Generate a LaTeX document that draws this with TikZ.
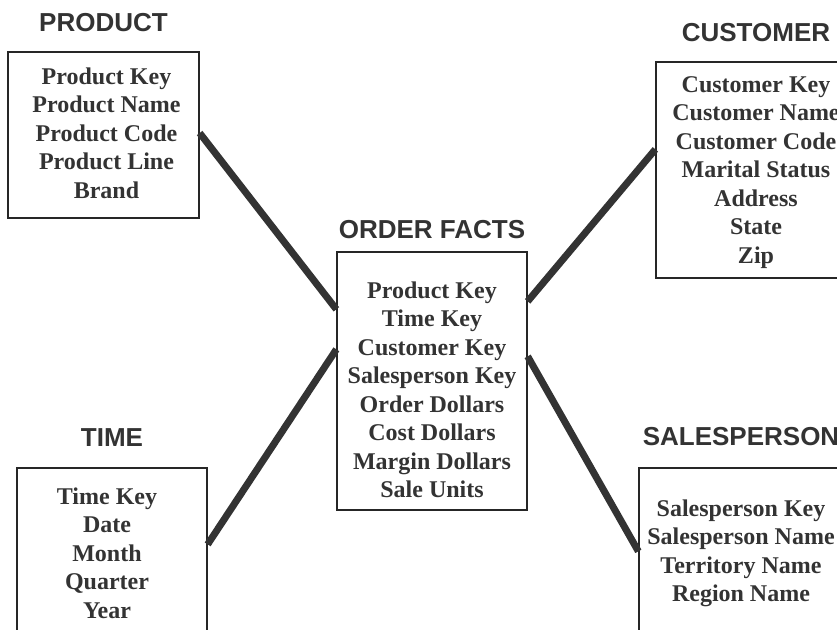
\documentclass[tikz,border=0pt]{standalone}
\usepackage{fontspec}
\setmainfont{Liberation Serif}
\newfontfamily\headfont{Liberation Sans}
\usetikzlibrary{positioning}
\definecolor{ink}{RGB}{51,51,51}

\begin{document}
\begin{tikzpicture}[x=1pt, y=-1pt,
  tbl/.style={rectangle, draw=black!85, line width=1.3pt, inner sep=0pt},
  fields/.style={align=center, inner sep=0pt, text=ink,
                 font=\fontsize{24}{28.5}\selectfont\bfseries},
  title/.style={inner sep=0pt, text=ink,
                font=\headfont\fontsize{26}{30}\selectfont\bfseries},
  link/.style={draw=ink, line width=7pt}
]
\useasboundingbox (0,0) rectangle (837,629);
\clip (0,0) rectangle (837,629);

% tables (the right and bottom ones run off the page)
\node[tbl, minimum width=191pt, minimum height=166pt] (product) at (103.5,135) {};
\node[tbl, minimum width=200pt, minimum height=216pt] (customer) at (756,170) {};
\node[tbl, minimum width=190pt, minimum height=258pt] (order) at (432,381) {};
\node[tbl, minimum width=190pt, minimum height=192pt] (time) at (112,564) {};
\node[tbl, minimum width=204pt, minimum height=232pt] (salesperson) at (741,584) {};

\node[title, above=19pt of product] (producttitle) {PRODUCT};
\node[title, above=19pt of customer] (customertitle) {CUSTOMER};
\node[title, above=12pt of order] (ordertitle) {ORDER FACTS};
\node[title, above=21pt of time] (timetitle) {TIME};
\node[title, above=21pt of salesperson] (salespersontitle) {SALESPERSON};

\node[fields, below=16pt of product.north, xshift=3pt] (productkeys)
  {Product Key\\Product Name\\Product Code\\Product Line\\Brand};
\node[fields, below=15pt of customer.north] (customerkeys)
  {Customer Key\\Customer Name\\Customer Code\\Marital Status\\Address\\State\\Zip};
\node[fields, below=30pt of order.north] (orderkeys)
  {Product Key\\Time Key\\Customer Key\\Salesperson Key\\Order Dollars\\Cost Dollars\\Margin Dollars\\Sale Units};
\node[fields, below=20pt of time.north, xshift=-5pt] (timekeys)
  {Time Key\\Date\\Month\\Quarter\\Year};
\node[fields, below=32pt of salesperson.north] (salespersonkeys)
  {Salesperson Key\\Salesperson Name\\Territory Name\\Region Name};

% star joins
\draw[link] ([yshift=2pt]product.east) -- ([yshift=-58pt]order.north west);
\draw[link] ([yshift=-88pt]customer.north west) -- ([yshift=-50pt]order.north east);
\draw[link] ([yshift=-77pt]time.north east) -- ([yshift=-98pt]order.north west);
\draw[link] ([yshift=-105pt]order.north east) -- ([yshift=-84pt]salesperson.north west);
\end{tikzpicture}
\end{document}
